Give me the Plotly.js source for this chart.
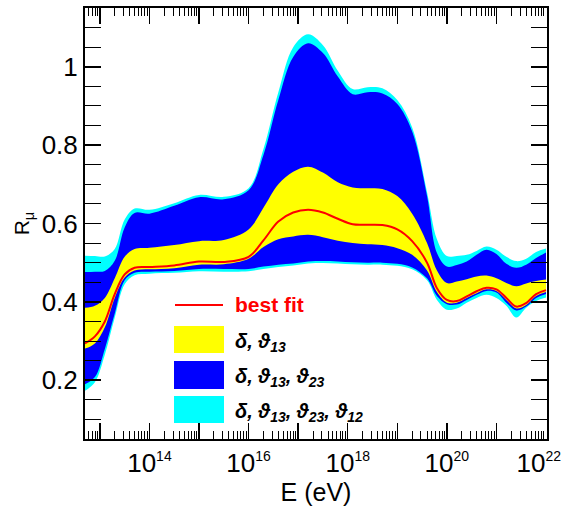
<!DOCTYPE html>
<html>
<head>
<meta charset="utf-8">
<script src="https://cdn.plot.ly/plotly-3.0.1.min.js"></script>
<style>html,body{margin:0;padding:0;background:#fff;}#chart{width:563px;height:506px;}</style>
</head>
<body>
<div id="chart"></div>
<script>
// energy grid, log10(E/eV)
const logE = [12.7, 12.9, 13.1, 13.3, 13.5, 13.7, 14.0, 14.5, 15.0, 15.5, 16.0, 16.3, 16.6, 16.9, 17.2, 17.5, 17.8, 18.1, 18.4, 18.7, 19.0, 19.3, 19.6, 19.8, 20.0, 20.2, 20.4, 20.6, 20.8, 21.0, 21.2, 21.4, 21.6, 21.8, 22.0];
// delta, th13, th23, th12 band
const cyanUpper = [0.518, 0.517, 0.516, 0.535, 0.610, 0.638, 0.635, 0.652, 0.673, 0.668, 0.690, 0.790, 0.935, 1.050, 1.083, 1.055, 0.990, 0.943, 0.948, 0.945, 0.915, 0.845, 0.680, 0.560, 0.517, 0.517, 0.520, 0.530, 0.541, 0.533, 0.515, 0.504, 0.510, 0.527, 0.536];
const cyanLower = [0.173, 0.195, 0.265, 0.360, 0.445, 0.468, 0.472, 0.474, 0.478, 0.477, 0.478, 0.484, 0.489, 0.493, 0.498, 0.499, 0.498, 0.496, 0.495, 0.495, 0.492, 0.483, 0.455, 0.405, 0.380, 0.383, 0.398, 0.410, 0.418, 0.410, 0.390, 0.360, 0.385, 0.402, 0.411];
// delta, th13, th23 band
const blueUpper = [0.476, 0.477, 0.479, 0.505, 0.590, 0.627, 0.625, 0.645, 0.667, 0.662, 0.685, 0.775, 0.915, 1.025, 1.060, 1.035, 0.975, 0.930, 0.935, 0.932, 0.905, 0.835, 0.670, 0.525, 0.490, 0.494, 0.503, 0.520, 0.533, 0.522, 0.497, 0.487, 0.495, 0.512, 0.526];
const blueLower = [0.190, 0.208, 0.280, 0.370, 0.455, 0.474, 0.477, 0.479, 0.484, 0.484, 0.484, 0.490, 0.495, 0.498, 0.503, 0.504, 0.503, 0.501, 0.500, 0.500, 0.497, 0.488, 0.460, 0.415, 0.394, 0.393, 0.405, 0.418, 0.428, 0.424, 0.398, 0.378, 0.388, 0.410, 0.420];
// delta, th13 band
const yellowUpper = [0.385, 0.390, 0.410, 0.460, 0.515, 0.535, 0.538, 0.545, 0.555, 0.558, 0.585, 0.640, 0.700, 0.732, 0.745, 0.730, 0.705, 0.692, 0.690, 0.688, 0.670, 0.625, 0.550, 0.480, 0.448, 0.452, 0.458, 0.465, 0.467, 0.460, 0.448, 0.440, 0.447, 0.453, 0.457];
const yellowLower = [0.281, 0.294, 0.335, 0.410, 0.462, 0.480, 0.483, 0.486, 0.495, 0.496, 0.510, 0.540, 0.560, 0.567, 0.571, 0.565, 0.556, 0.550, 0.547, 0.545, 0.537, 0.520, 0.480, 0.425, 0.398, 0.398, 0.410, 0.422, 0.432, 0.428, 0.405, 0.383, 0.392, 0.415, 0.425];
// best fit
const bestFit = [0.294, 0.312, 0.350, 0.420, 0.470, 0.487, 0.489, 0.493, 0.503, 0.502, 0.515, 0.557, 0.605, 0.628, 0.635, 0.628, 0.612, 0.598, 0.597, 0.596, 0.585, 0.555, 0.500, 0.435, 0.405, 0.402, 0.414, 0.427, 0.436, 0.432, 0.410, 0.388, 0.397, 0.420, 0.430];

const legendLabels = ['best fit', 'δ, ϑ<sub>13</sub>', 'δ, ϑ<sub>13</sub>, ϑ<sub>23</sub>', 'δ, ϑ<sub>13</sub>, ϑ<sub>23</sub>, ϑ<sub>12</sub>'];
const labeledDecades = [14, 16, 18, 20, 22];
const unlabeledDecades = [13, 15, 17, 19, 21];

const E = logE.map(v => Math.pow(10, v));
const CYAN = '#00ffff', BLUE = '#0000ff', YELLOW = '#ffff00', RED = '#ff0000';

function band(lower, upper, color, name) {
  return [
    {x: E, y: lower, type: 'scatter', mode: 'lines', line: {width: 0, shape: 'spline', smoothing: 1}, hoverinfo: 'skip', showlegend: false},
    {x: E, y: upper, type: 'scatter', mode: 'lines', fill: 'tonexty', fillcolor: color, name: name, line: {width: 0, shape: 'spline', smoothing: 1}, hoverinfo: 'skip', showlegend: false}
  ];
}

const data = [].concat(
  band(cyanLower, cyanUpper, CYAN, 'cyan'),
  band(blueLower, blueUpper, BLUE, 'blue'),
  band(yellowLower, yellowUpper, YELLOW, 'yellow'),
  [{x: E, y: bestFit, type: 'scatter', mode: 'lines', line: {color: RED, width: 2, shape: 'spline', smoothing: 1}, showlegend: false, hoverinfo: 'skip'},
   // carrier for the secondary (odd-decade) tick axis
   {x: E, y: bestFit, xaxis: 'x2', type: 'scatter', mode: 'lines', line: {width: 0}, opacity: 0, showlegend: false, hoverinfo: 'skip'}]
);

const tickvals = labeledDecades.map(d => Math.pow(10, d));
const ticktext = labeledDecades.map(d => '10<sup><span style="font-size:14px">' + d + '</span></sup>' + (d === 22 ? '\u00a0\u00a0' : ''));
const oddVals = unlabeledDecades.map(d => Math.pow(10, d));
const minorVals = [];
for (let d = 12; d <= 21; d++) for (let k = 2; k <= 9; k++) minorVals.push(k * Math.pow(10, d));

// plot area in px: x 85..547, y 8..439
const L = 85, R = 547, T = 8, B = 439;
const px = x => (x - L) / (R - L);
const py = y => (B - y) / (B - T);

const shapes = [
  {type: 'line', xref: 'paper', yref: 'paper', x0: px(175), x1: px(223), y0: py(305), y1: py(305), line: {color: RED, width: 2}},
  {type: 'rect', xref: 'paper', yref: 'paper', x0: px(174), x1: px(224), y0: py(353), y1: py(326), fillcolor: YELLOW, line: {width: 0}},
  {type: 'rect', xref: 'paper', yref: 'paper', x0: px(174), x1: px(224), y0: py(389), y1: py(361), fillcolor: BLUE, line: {width: 0}},
  {type: 'rect', xref: 'paper', yref: 'paper', x0: px(174), x1: px(224), y0: py(423), y1: py(396), fillcolor: CYAN, line: {width: 0}}
];
const legY = [304, 342, 377, 412];
const annotations = legendLabels.map((t, i) => ({
  xref: 'paper', yref: 'paper', x: px(233), y: py(legY[i]), xanchor: 'left', yanchor: 'middle', showarrow: false,
  text: i === 0 ? '<b>' + t + '</b>' : '<b><i>' + t + '</i></b>',
  font: {family: 'Liberation Sans, DejaVu Sans, sans-serif', size: i === 0 ? 21 : 20, color: i === 0 ? RED : '#000'}
}));

const tickFont = {family: 'Liberation Sans, Arial, sans-serif', size: 26, color: '#000'};
const range = [12.7, 22.02];

const layout = {
  width: 563, height: 506,
  margin: {l: L, r: 563 - R, t: T, b: 506 - B},
  paper_bgcolor: '#fff', plot_bgcolor: '#fff',
  showlegend: false, hovermode: false,
  xaxis: {
    type: 'log', range: range,
    showline: true, linecolor: '#000', linewidth: 2, mirror: 'allticks',
    ticks: 'inside', tickcolor: '#000', tickwidth: 1.5, ticklen: 16,
    showgrid: false, zeroline: false, tickfont: tickFont, ticklabeloverflow: 'allow',
    tickmode: 'array', tickvals: tickvals, ticktext: ticktext,
    minor: {tickmode: 'array', tickvals: minorVals, ticks: 'inside', ticklen: 8, tickcolor: '#000', tickwidth: 1, showgrid: false},
    title: {text: 'E (eV)', font: {family: 'Liberation Sans, Arial, sans-serif', size: 25, color: '#000'}, standoff: 8}
  },
  xaxis2: {
    type: 'log', range: range, overlaying: 'x', anchor: 'y', side: 'bottom',
    showline: false, mirror: 'allticks', ticks: 'inside', tickcolor: '#000', tickwidth: 1.5, ticklen: 16,
    showticklabels: false, showgrid: false, zeroline: false,
    tickmode: 'array', tickvals: oddVals
  },
  yaxis: {
    range: [0.05, 1.15], tickmode: 'linear', tick0: 0, dtick: 0.2,
    showline: true, linecolor: '#000', linewidth: 2, mirror: 'allticks',
    ticks: 'inside', tickcolor: '#000', tickwidth: 1.5, ticklen: 16,
    showgrid: false, zeroline: false, tickfont: tickFont,
    minor: {tickmode: 'linear', tick0: 0, dtick: 0.05, ticks: 'inside', ticklen: 8, tickcolor: '#000', tickwidth: 1, showgrid: false},
    title: {text: 'R<sub>μ</sub>', font: {family: 'Liberation Sans, Arial, sans-serif', size: 21, color: '#000'}, standoff: 6}
  },
  shapes: shapes,
  annotations: annotations
};

Plotly.newPlot('chart', data, layout, {staticPlot: true, displayModeBar: false});
</script>
</body>
</html>
